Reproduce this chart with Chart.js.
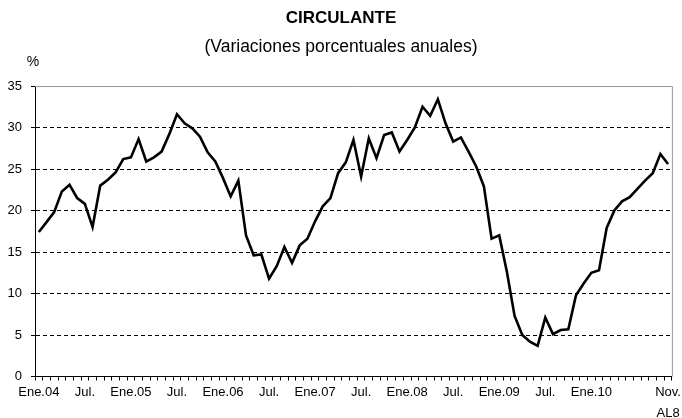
<!DOCTYPE html>
<html>
<head>
<meta charset="utf-8">
<script src="https://cdn.jsdelivr.net/npm/chart.js@4/dist/chart.umd.min.js"></script>
<style>
  html, body { margin: 0; padding: 0; background: #fff; }
</style>
</head>
<body>
<canvas id="myChart" width="682" height="418"></canvas>
<script>
'use strict';

// months Jan 2004 - Nov 2010
var categories = [
  'Ene.04','Feb.04','Mar.04','Abr.04','May.04','Jun.04','Jul.04','Ago.04','Sep.04','Oct.04','Nov.04','Dic.04',
  'Ene.05','Feb.05','Mar.05','Abr.05','May.05','Jun.05','Jul.05','Ago.05','Sep.05','Oct.05','Nov.05','Dic.05',
  'Ene.06','Feb.06','Mar.06','Abr.06','May.06','Jun.06','Jul.06','Ago.06','Sep.06','Oct.06','Nov.06','Dic.06',
  'Ene.07','Feb.07','Mar.07','Abr.07','May.07','Jun.07','Jul.07','Ago.07','Sep.07','Oct.07','Nov.07','Dic.07',
  'Ene.08','Feb.08','Mar.08','Abr.08','May.08','Jun.08','Jul.08','Ago.08','Sep.08','Oct.08','Nov.08','Dic.08',
  'Ene.09','Feb.09','Mar.09','Abr.09','May.09','Jun.09','Jul.09','Ago.09','Sep.09','Oct.09','Nov.09','Dic.09',
  'Ene.10','Feb.10','Mar.10','Abr.10','May.10','Jun.10','Jul.10','Ago.10','Sep.10','Oct.10','Nov.10'
];

var circulante = [
  17.4, 18.6, 19.8, 22.3, 23.1, 21.5, 20.8, 18.0, 23.0, 23.7, 24.6, 26.2,
  26.4, 28.6, 25.9, 26.4, 27.1, 29.2, 31.6, 30.5, 29.9, 28.9, 27.0, 25.9,
  23.9, 21.7, 23.6, 17.0, 14.6, 14.7, 11.8, 13.3, 15.6, 13.7, 15.8, 16.6,
  18.7, 20.5, 21.5, 24.5, 25.8, 28.5, 24.1, 28.7, 26.3, 29.1, 29.4, 27.1,
  28.5, 30.0, 32.5, 31.4, 33.4, 30.5, 28.3, 28.8, 27.1, 25.3, 22.9, 16.6,
  17.0, 12.6, 7.3, 5.0, 4.2, 3.7, 7.1, 5.1, 5.6, 5.7, 9.8, 11.2,
  12.5, 12.8, 17.9, 20.0, 21.1, 21.6, 22.6, 23.6, 24.5, 26.8, 25.6
];

// shown every 6 months, plus the last one
var tickLabels = ['Ene.04','Jul.','Ene.05','Jul.','Ene.06','Jul.','Ene.07','Jul.','Ene.08','Jul.','Ene.09','Jul.','Ene.10'];
var lastLabel = ['Nov.', 'AL8'];

var titleText = 'CIRCULANTE';
var subtitleText = '(Variaciones porcentuales anuales)';
var unitText = '%';

var FONT = '"Liberation Sans", Arial, sans-serif';

var frame = {
  id: 'frame',
  beforeDatasetsDraw: function (chart) {
    var a = chart.chartArea, c = chart.ctx;
    c.save();
    c.strokeStyle = '#999';
    c.lineWidth = 1;
    c.beginPath();
    c.moveTo(a.left, a.top + 0.5);
    c.lineTo(a.right + 0.5, a.top + 0.5);
    c.lineTo(a.right + 0.5, a.bottom);
    c.stroke();
    c.restore();
  },
  afterDraw: function (chart) {
    var c = chart.ctx;
    c.save();
    c.fillStyle = '#000';
    c.textAlign = 'center';
    c.textBaseline = 'middle';
    c.font = 'bold 17px ' + FONT;
    c.fillText(titleText, 341, 18);
    c.font = '17.5px ' + FONT;
    c.fillText(subtitleText, 341, 47);
    c.font = '14px ' + FONT;
    c.fillText(unitText, 33, 62);
    c.restore();
  }
};

var ctx = document.getElementById('myChart').getContext('2d');

var chart = new Chart(ctx, {
  type: 'line',
  data: {
    labels: categories,
    datasets: [{
      label: 'Circulante',
      data: circulante,
      borderColor: '#000',
      borderWidth: 2.6,
      pointRadius: 0,
      tension: 0,
      fill: false
    }]
  },
  options: {
    responsive: false,
    animation: false,
    layout: { padding: { top: 86, right: 9, left: 0, bottom: 0 } },
    plugins: {
      legend: { display: false },
      title: { display: false },
      tooltip: { enabled: false }
    },
    scales: {
      x: {
        type: 'category',
        offset: true,
        afterFit: function (s) { s.height = 41.5; },
        grid: {
          display: true,
          offset: true,
          drawOnChartArea: false,
          color: '#000',
          tickLength: 4
        },
        border: { display: true, color: '#000', width: 1 },
        ticks: {
          autoSkip: false,
          maxRotation: 0,
          minRotation: 0,
          padding: 1,
          color: '#000',
          font: { family: FONT, size: 13, lineHeight: 1.65 },
          callback: function (val, i) {
            if (i === categories.length - 1) return lastLabel;
            if (i % 6 === 0 && i / 6 < tickLabels.length) return tickLabels[i / 6];
            return '';
          }
        }
      },
      y: {
        min: 0,
        max: 35,
        afterFit: function (s) { s.width = 35; },
        grid: {
          color: function (c) {
            return (c.tick && (c.tick.value === 0 || c.tick.value === 35)) ? 'rgba(0,0,0,0)' : '#000';
          },
          tickColor: '#000',
          tickLength: 4,
          lineWidth: 1
        },
        border: { display: true, color: '#000', width: 1, dash: [4, 3] },
        ticks: {
          stepSize: 5,
          padding: 9,
          color: '#000',
          font: { family: FONT, size: 13 }
        }
      }
    }
  },
  plugins: [frame]
});
</script>
</body>
</html>
